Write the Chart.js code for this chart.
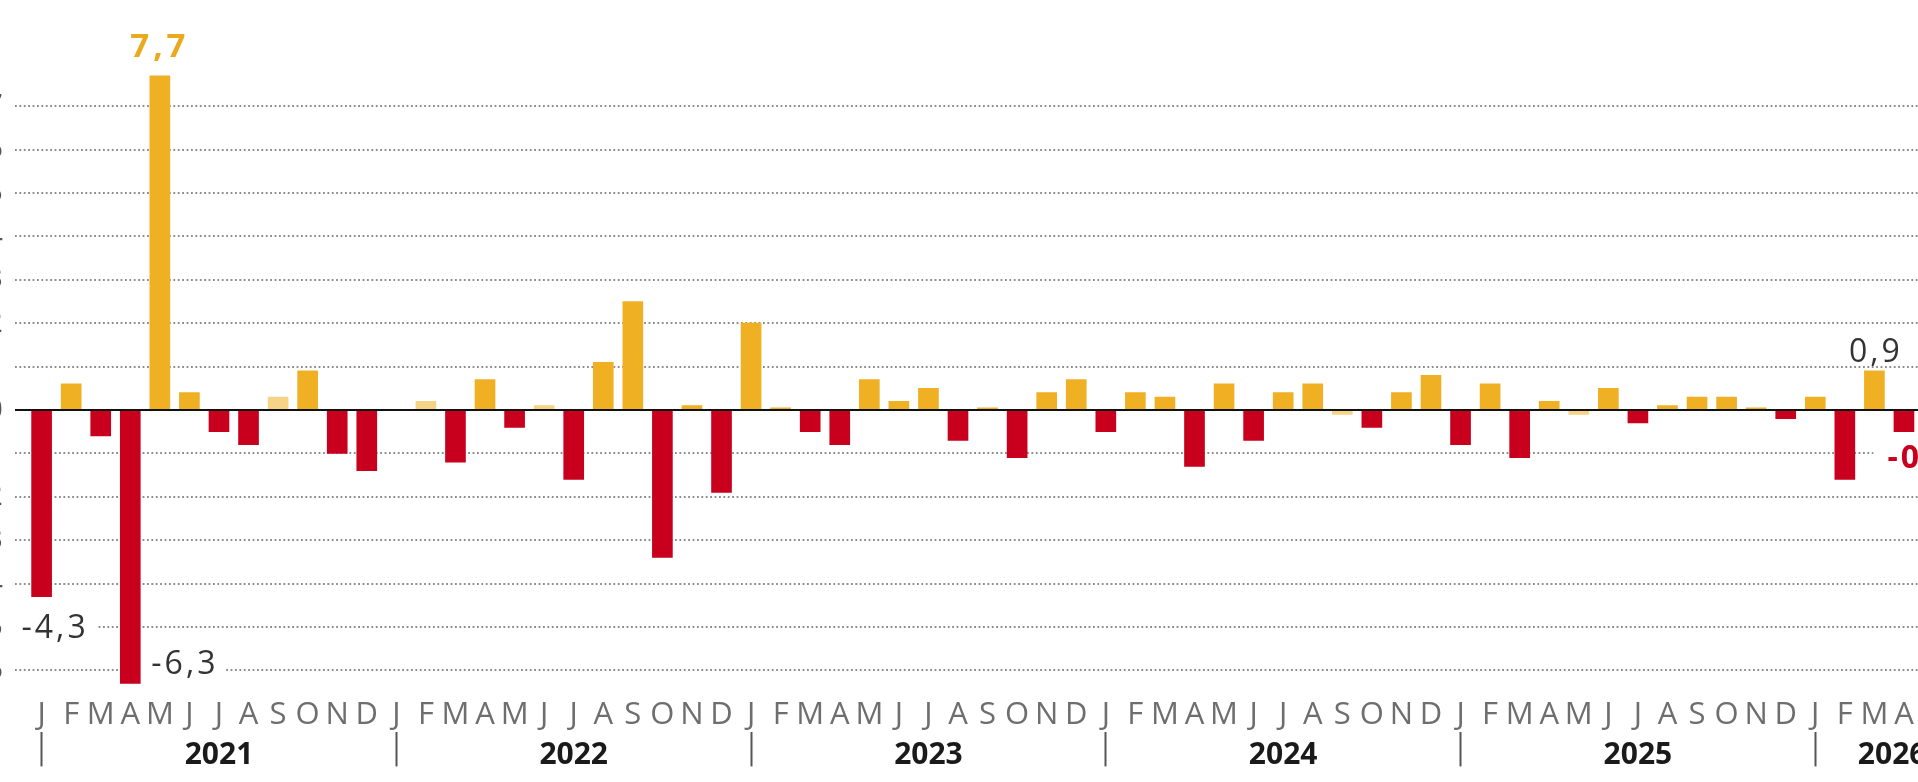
<!DOCTYPE html>
<html>
<head>
<meta charset="utf-8">
<script src="https://cdn.jsdelivr.net/npm/chart.js@4.4.1/dist/chart.umd.min.js"></script>
<style>
html, body { margin: 0; padding: 0; width: 1918px; height: 782px; overflow: hidden; background: #ffffff; }
#wrap { position: absolute; left: -40px; top: 0; width: 2009px; height: 782px; }
</style>
</head>
<body>
<div id="wrap"><canvas id="c"></canvas></div>
<script>
// ---- data ----
const monthLetters = ['J','F','M','A','M','J','J','A','S','O','N','D'];
const years = ['2021','2022','2023','2024','2025','2026'];
const yTicks = [7, 6, 5, 4, 3, 2, 1, 0, -1, -2, -3, -4, -5, -6];

const values2021 = [-4.3, 0.6, -0.6, -6.3, 7.7, 0.4, -0.5, -0.8, 0.3, 0.9, -1.0, -1.4];
const values2022 = [0.0, 0.2, -1.2, 0.7, -0.4, 0.1, -1.6, 1.1, 2.5, -3.4, 0.1, -1.9];
const values2023 = [2.0, 0.05, -0.5, -0.8, 0.7, 0.2, 0.5, -0.7, 0.05, -1.1, 0.4, 0.7];
const values2024 = [-0.5, 0.4, 0.3, -1.3, 0.6, -0.7, 0.4, 0.6, -0.1, -0.4, 0.4, 0.8];
const values2025 = [-0.8, 0.6, -1.1, 0.2, -0.1, 0.5, -0.3, 0.1, 0.3, 0.3, 0.05, -0.2];
const values2026 = [0.3, -1.6, 0.9, -0.5];

const values = [].concat(values2021, values2022, values2023, values2024, values2025, values2026);

// ---- style ----
const AMBER = '#EFB024', RED = '#C8001E', PALE = '#F6D386';
const paleBars = [8, 13, 17, 44, 52];
const X_MIN = -0.9, X_MAX = 65.2;
const Y_MIN = -6.6, Y_MAX = 8.0;
const FONT = '"Open Sans", "Noto Sans", sans-serif';

const labelSpecs = {
  0:  { pos: 'below', weight: 400, size: 32, spacing: 3, color: '#333333', dx: 12, gap: 18, box: 12 },
  3:  { pos: 'right', weight: 400, size: 32, spacing: 3, color: '#333333', gap: 11, rise: 9, box: 10 },
  4:  { pos: 'above', weight: 700, size: 33, spacing: 4, color: '#EAAA1F', dx: -2, gap: 19, box: 0 },
  62: { pos: 'above', weight: 400, size: 32, spacing: 3, color: '#333333', dx: 0, gap: 9, box: 0 },
  63: { pos: 'below', weight: 700, size: 32, spacing: 3, color: RED, dx: 16, gap: 13, box: 14 }
};

// year axis: separators at each January, labels centred between separators
const yearTicks = [];
years.forEach((y, k) => {
  const start = 12 * k;
  const end = Math.min(start + 12, X_MAX);
  yearTicks.push({ value: start, label: '', sep: true });
  yearTicks.push({ value: (start + end) / 2, label: y, sep: false });
});
const findYearTick = v => yearTicks.find(t => Math.abs(t.value - v) < 1e-6);

const overlay = {
  id: 'overlay',
  afterDraw(chart) {
    const { ctx, chartArea, scales } = chart;
    const y0 = scales.y.getPixelForValue(0);
    ctx.save();
    ctx.strokeStyle = '#111111';
    ctx.lineWidth = 2;
    ctx.beginPath();
    ctx.moveTo(chartArea.left, y0);
    ctx.lineTo(chartArea.right, y0);
    ctx.stroke();
    ctx.restore();

    const meta = chart.getDatasetMeta(0);
    for (const [k, s] of Object.entries(labelSpecs)) {
      const i = +k;
      const el = meta.data[i];
      if (!el) continue;
      const text = values[i].toFixed(1).replace('.', ',');
      ctx.save();
      ctx.font = `${s.weight} ${s.size}px ${FONT}`;
      const hasLS = 'letterSpacing' in ctx;
      if (hasLS) ctx.letterSpacing = s.spacing + 'px';
      const w = ctx.measureText(text).width - (hasLS ? s.spacing : 0);
      const cap = s.size * 0.72;
      let x, base;
      if (s.pos === 'above') { x = el.x - w / 2 + (s.dx || 0); base = el.y - s.gap; }
      else if (s.pos === 'below') { x = el.x - w / 2 + (s.dx || 0); base = el.y + s.gap + cap; }
      else { x = el.x + el.width / 2 + s.gap; base = el.y - s.rise; }
      if (s.box) {
        ctx.fillStyle = '#ffffff';
        ctx.fillRect(x - s.box, base - cap - 6, w + 2 * s.box, cap + 14);
      }
      ctx.fillStyle = s.color;
      ctx.textAlign = 'left';
      ctx.textBaseline = 'alphabetic';
      ctx.fillText(text, x, base);
      ctx.restore();
    }
  }
};

new Chart(document.getElementById('c'), {
  type: 'bar',
  data: {
    datasets: [{
      data: values.map((v, i) => ({ x: i, y: v })),
      backgroundColor: c => paleBars.includes(c.dataIndex) ? PALE : (values[c.dataIndex] < 0 ? RED : AMBER),
      borderWidth: 0,
      barThickness: 20
    }]
  },
  options: {
    responsive: true,
    maintainAspectRatio: false,
    animation: false,
    devicePixelRatio: 1,
    layout: { padding: { top: 62.8, left: 0, right: 0, bottom: 0 } },
    plugins: { legend: { display: false }, tooltip: { enabled: false }, title: { display: false } },
    scales: {
      x: {
        type: 'linear', position: 'bottom', min: X_MIN, max: X_MAX, offset: false,
        afterBuildTicks: s => { s.ticks = values.map((_, i) => ({ value: i })); },
        afterFit: s => { s.height = 36; },
        grid: { display: false, offset: false },
        border: { display: false },
        ticks: {
          autoSkip: false, maxRotation: 0, minRotation: 0, padding: -8,
          color: '#6e6e6e', font: { family: FONT, size: 31 },
          callback: v => monthLetters[((Math.round(v) % 12) + 12) % 12]
        }
      },
      years: {
        type: 'linear', position: 'bottom', min: X_MIN, max: X_MAX, offset: false,
        afterBuildTicks: s => { s.ticks = yearTicks.map(t => ({ value: t.value })); },
        afterFit: s => { s.height = 49.6; },
        grid: {
          display: true, drawOnChartArea: false, drawTicks: true, offset: false,
          tickLength: 34, tickWidth: 2,
          tickColor: c => { const t = c.tick && findYearTick(c.tick.value); return t && t.sep ? '#555555' : 'rgba(0,0,0,0)'; }
        },
        border: { display: false },
        ticks: {
          autoSkip: false, maxRotation: 0, minRotation: 0, padding: -29,
          color: '#1a1a1a', font: { family: FONT, size: 30, weight: 'bold' },
          callback: v => { const t = findYearTick(v); return t ? t.label : ''; }
        }
      },
      y: {
        type: 'linear', position: 'left', min: Y_MIN, max: Y_MAX, z: 1,
        afterBuildTicks: s => { s.ticks = yTicks.map(v => ({ value: v })); },
        afterFit: s => { s.width = 55; },
        grid: {
          drawTicks: false, lineWidth: 2,
          color: c => (c.tick && c.tick.value === 0) ? 'rgba(0,0,0,0)' : '#8c8c8c'
        },
        border: { display: false, dash: [1.8, 2.6] },
        ticks: { padding: 12, color: '#555555', font: { family: FONT, size: 30 }, callback: v => String(v) }
      }
    }
  },
  plugins: [overlay]
});
</script>
</body>
</html>
